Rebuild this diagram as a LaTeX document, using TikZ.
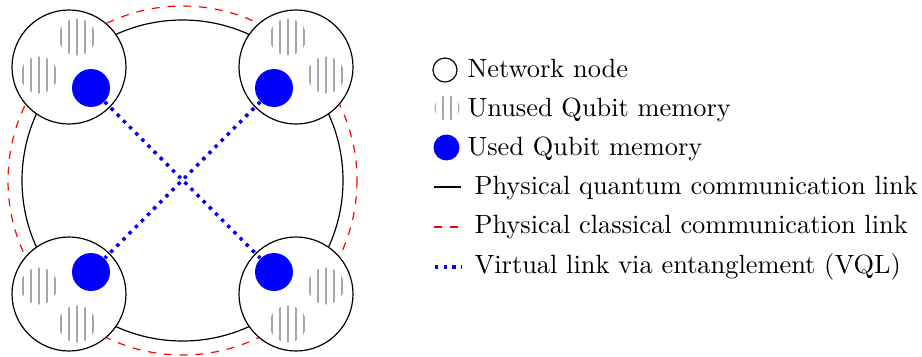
\documentclass[tikz,border=0pt]{standalone}
\begin{document}
\begin{tikzpicture}[x=0.379pt,y=-0.379pt,
  netnode/.style={circle,draw=black,fill=white,minimum size=43.2pt,inner sep=0pt,line width=0.45pt},
  usedmem/.style={circle,fill=blue,minimum size=14.4pt,inner sep=0pt},
  hatchline/.style={draw=black!35,line width=0.45pt},
  qlink/.style={draw=black,line width=0.45pt},
  clink/.style={draw=red,dashed,line width=0.45pt},
  vql/.style={draw=blue,dotted,line width=1.3pt},
  legtext/.style={anchor=base west,inner sep=0pt},
  hatch/.pic={
    \begin{scope}
      \clip (0,0) circle (18.5);
      \foreach \dx in {-16,-8,0,8,16} \draw[hatchline] (\dx,-20) -- (\dx,20);
    \end{scope}
  }]
\useasboundingbox (0,0) rectangle (922,356);
% ring links
\coordinate (ctr) at (182.5,180.5);
\draw[clink] (ctr) circle (174.5);
\draw[qlink] (ctr) circle (160.5);
% network nodes
\node[netnode] (n1) at (69,67) {};
\node[netnode] (n2) at (296,67) {};
\node[netnode] (n3) at (69,294) {};
\node[netnode] (n4) at (296,294) {};
% unused memories
\pic at (77,37) {hatch};
\pic at (39,75) {hatch};
\pic at (288,37) {hatch};
\pic at (326,75) {hatch};
\pic at (39,286) {hatch};
\pic at (77,324) {hatch};
\pic at (326,286) {hatch};
\pic at (288,324) {hatch};
% used memories
\node[usedmem] (m1) at (91,88) {};
\node[usedmem] (m2) at (274,88) {};
\node[usedmem] (m3) at (91,272) {};
\node[usedmem] (m4) at (274,272) {};
% virtual links
\draw[vql] (m1) -- (m4);
\draw[vql] (m2) -- (m3);
% legend
\node[netnode,minimum size=9.1pt] (lg1) at (445,70) {};
\begin{scope}
  \clip (447,108) circle (12.5);
  \foreach \dx in {-12,-4,4,12} \draw[hatchline] (447+\dx,90) -- (447+\dx,126);
\end{scope}
\coordinate (lg2) at (447,108);
\node[usedmem,minimum size=9.85pt] (lg3) at (446.5,147.5) {};
\coordinate (l4a) at (434,187); \coordinate (l4b) at (461,187);
\draw[qlink] (l4a) -- (l4b);
\coordinate (l5a) at (434,227); \coordinate (l5b) at (461,227);
\draw[clink] (l5a) -- (l5b);
\coordinate (l6a) at (435,267); \coordinate (l6b) at (462,267);
\draw[vql] (l6a) -- (l6b);
\node[legtext] (t1) at (467,77) {Network node};
\node[legtext] (t2) at (467,116) {Unused Qubit memory};
\node[legtext] (t3) at (467,155.5) {Used Qubit memory};
\node[legtext] (t4) at (474,194.5) {Physical quantum communication link};
\node[legtext] (t5) at (474,233.5) {Physical classical communication link};
\node[legtext] (t6) at (474,273) {Virtual link via entanglement (VQL)};
\end{tikzpicture}
\end{document}
